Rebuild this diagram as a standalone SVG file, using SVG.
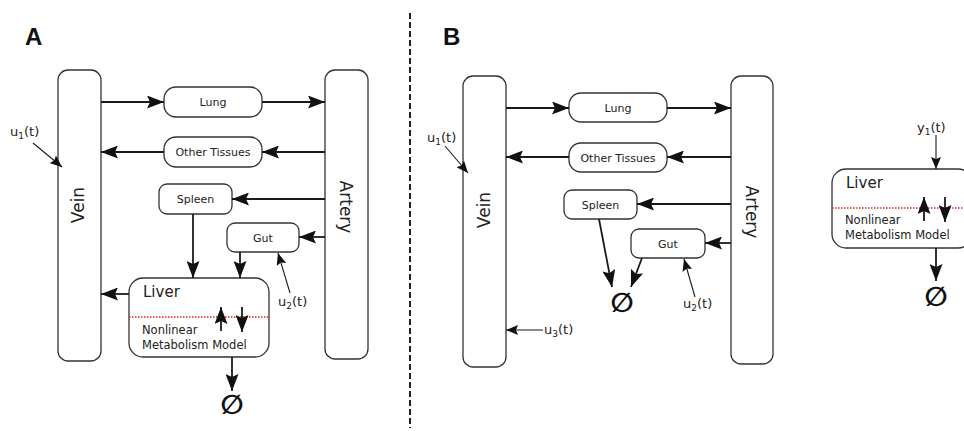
<svg xmlns="http://www.w3.org/2000/svg" width="964" height="431" viewBox="0 0 964 431">
<defs>
<style>
.box{fill:#fff;stroke:#333;stroke-width:1.3}
.lbl{font-family:"DejaVu Sans",sans-serif;font-size:11px;fill:#222;text-anchor:middle}
.big{font-family:"DejaVu Sans",sans-serif;font-size:17px;fill:#222;text-anchor:middle}
.liv{font-family:"DejaVu Sans",sans-serif;font-size:15px;fill:#222}
.sm{font-family:"DejaVu Sans",sans-serif;font-size:11.5px;fill:#222}
.inp{font-family:"DejaVu Sans",sans-serif;font-size:13px;fill:#222}
.pan{font-family:"Liberation Sans",Arial,sans-serif;font-size:24px;font-weight:bold;fill:#111}
.null{font-family:"DejaVu Sans",sans-serif;font-size:27px;font-weight:bold;fill:#111;text-anchor:middle}
.c{stroke:#1a1a1a;stroke-width:1.8;fill:none;marker-end:url(#ah)}
.t{stroke:#1a1a1a;stroke-width:1.1;fill:none;marker-end:url(#as)}
.red{stroke:#d22;stroke-width:1.3;stroke-dasharray:1.5,1.5;fill:none}
</style>
<marker id="ah" markerUnits="userSpaceOnUse" markerWidth="18" markerHeight="13" refX="17" refY="6.5" orient="auto" viewBox="0 0 18 13">
<path d="M0,0 L17,6.5 L0,13 L3,6.5 Z" fill="#111"/>
</marker>
<marker id="as" markerUnits="userSpaceOnUse" markerWidth="13" markerHeight="10" refX="12" refY="5" orient="auto" viewBox="0 0 13 10">
<path d="M0,0 L12,5 L0,10 L2,5 Z" fill="#111"/>
</marker>
</defs>

<text class="pan" x="25" y="45">A</text>
<text class="pan" x="443" y="45">B</text>
<line x1="410" y1="13" x2="410" y2="428" stroke="#222" stroke-width="2" stroke-dasharray="6,3"/>

<!-- Panel A nodes -->
<g id="A-vein"><rect class="box" x="58" y="70" width="43" height="291" rx="10"/><text class="big" transform="translate(84,205) rotate(-90)">Vein</text></g>
<g id="A-artery"><rect class="box" x="325" y="70" width="43" height="289" rx="10"/><text class="big" transform="translate(340,207) rotate(90)">Artery</text></g>
<g id="A-lung"><rect class="box" x="164" y="87" width="98" height="30" rx="12"/><text class="lbl" x="213" y="106">Lung</text></g>
<g id="A-other"><rect class="box" x="164" y="137" width="98" height="30" rx="12"/><text class="lbl" x="213" y="156">Other Tissues</text></g>
<g id="A-spleen"><rect class="box" x="159" y="184" width="73" height="30" rx="8"/><text class="lbl" x="195.5" y="203">Spleen</text></g>
<g id="A-gut"><rect class="box" x="227" y="223" width="72" height="29" rx="8"/><text class="lbl" x="263" y="241.5">Gut</text></g>
<g id="A-liver"><rect class="box" x="129" y="278" width="140" height="79" rx="14"/>
<line class="red" x1="129" y1="317" x2="269" y2="317"/>
<text class="liv" x="143" y="297">Liver</text>
<text class="sm" x="142" y="334">Nonlinear</text>
<text class="sm" x="142" y="349">Metabolism Model</text>
<line class="c" x1="221" y1="331" x2="221" y2="307"/>
<line class="c" x1="242" y1="307" x2="242" y2="332"/>
</g>
<g id="A-null"><text class="null" x="232" y="414">∅</text></g>
<g id="A-u1"><text class="inp" x="10" y="136">u<tspan font-size="9" dy="3">1</tspan><tspan dy="-3">(t)</tspan></text></g>
<g id="A-u2"><text class="inp" x="278" y="306">u<tspan font-size="9" dy="3">2</tspan><tspan dy="-3">(t)</tspan></text></g>

<!-- Panel A connectors -->
<g id="A-connectors">
<line class="c" x1="101" y1="102" x2="164" y2="102"/>
<line class="c" x1="262" y1="102" x2="325" y2="102"/>
<line class="c" x1="325" y1="152" x2="262" y2="152"/>
<line class="c" x1="164" y1="152" x2="101" y2="152"/>
<line class="c" x1="325" y1="199" x2="232" y2="199"/>
<line class="c" x1="325" y1="237" x2="299" y2="237"/>
<line class="c" x1="193" y1="214" x2="193" y2="278"/>
<line class="c" x1="240" y1="252" x2="240" y2="278"/>
<line class="c" x1="129" y1="294" x2="101" y2="294"/>
<line class="c" x1="232" y1="357" x2="232" y2="391"/>
<line class="t" x1="33" y1="143" x2="62" y2="167"/>
<line class="t" x1="290" y1="293" x2="278" y2="253"/>
</g>

<!-- Panel B nodes -->
<g id="B-vein"><rect class="box" x="463" y="76" width="43" height="291" rx="10"/><text class="big" transform="translate(490,210) rotate(-90)">Vein</text></g>
<g id="B-artery"><rect class="box" x="731" y="76" width="42" height="288" rx="10"/><text class="big" transform="translate(746,212) rotate(90)">Artery</text></g>
<g id="B-lung"><rect class="box" x="569" y="93" width="98" height="29" rx="12"/><text class="lbl" x="618" y="111.5">Lung</text></g>
<g id="B-other"><rect class="box" x="569" y="143" width="98" height="29" rx="12"/><text class="lbl" x="618" y="161.5">Other Tissues</text></g>
<g id="B-spleen"><rect class="box" x="564" y="190" width="73" height="29" rx="8"/><text class="lbl" x="600.5" y="208.5">Spleen</text></g>
<g id="B-gut"><rect class="box" x="631" y="229" width="74" height="29" rx="8"/><text class="lbl" x="668" y="247.5">Gut</text></g>
<g id="B-null"><text class="null" x="622" y="312">∅</text></g>
<g id="B-u1"><text class="inp" x="427" y="142">u<tspan font-size="9" dy="3">1</tspan><tspan dy="-3">(t)</tspan></text></g>
<g id="B-u2"><text class="inp" x="683" y="308">u<tspan font-size="9" dy="3">2</tspan><tspan dy="-3">(t)</tspan></text></g>
<g id="B-u3"><text class="inp" x="544" y="334">u<tspan font-size="9" dy="3">3</tspan><tspan dy="-3">(t)</tspan></text></g>

<g id="B-liver"><rect class="box" x="832" y="169" width="140" height="79" rx="14"/>
<line class="red" x1="832" y1="208" x2="964" y2="208"/>
<text class="liv" x="846" y="188">Liver</text>
<text class="sm" x="845" y="224">Nonlinear</text>
<text class="sm" x="845" y="239">Metabolism Model</text>
<line class="c" x1="924" y1="221" x2="924" y2="197"/>
<line class="c" x1="945" y1="197" x2="945" y2="222"/>
</g>
<g id="B-null2"><text class="null" x="936" y="306">∅</text></g>
<g id="B-y1"><text class="inp" x="917" y="132">y<tspan font-size="9" dy="3">1</tspan><tspan dy="-3">(t)</tspan></text></g>

<!-- Panel B connectors -->
<g id="B-connectors">
<line class="c" x1="506" y1="108" x2="569" y2="108"/>
<line class="c" x1="667" y1="108" x2="731" y2="108"/>
<line class="c" x1="731" y1="157" x2="667" y2="157"/>
<line class="c" x1="569" y1="157" x2="506" y2="157"/>
<line class="c" x1="731" y1="204" x2="637" y2="204"/>
<line class="c" x1="731" y1="243" x2="705" y2="243"/>
<line class="c" x1="599" y1="219" x2="612" y2="287"/>
<line class="c" x1="642" y1="258" x2="631" y2="287"/>
<line class="t" x1="445" y1="146" x2="468" y2="173"/>
<line class="t" x1="695" y1="297" x2="684" y2="259"/>
<line class="t" x1="543" y1="330" x2="506" y2="330"/>
<line class="t" x1="936" y1="135" x2="936" y2="169"/>
<line class="c" x1="936" y1="248" x2="936" y2="281"/>
</g>
</svg>
